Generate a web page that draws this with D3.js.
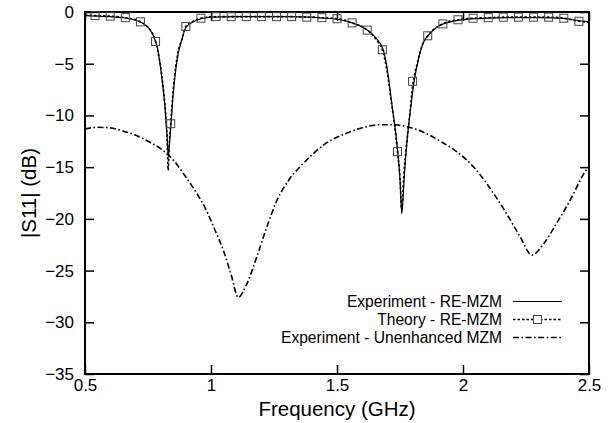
<!DOCTYPE html>
<html>
<head>
<meta charset="utf-8">
<script src="https://cdn.jsdelivr.net/npm/d3@7"></script>
<style>
    body { margin: 0; background: #fff; }
    svg text { font-family: "Liberation Sans", Arial, Helvetica, sans-serif; fill: #000; }
</style>
</head>
<body>
<svg id="chart" width="615" height="423"></svg>
<script>
// frequency (GHz) / |S11| (dB)
var expFreq = [0.5, 0.55, 0.6, 0.65, 0.7, 0.73, 0.76, 0.78, 0.79, 0.8, 0.81, 0.82, 0.826, 0.831, 0.836, 0.842, 0.85, 0.86, 0.87, 0.884, 0.9, 0.93, 0.96, 1.0, 1.1, 1.2, 1.3, 1.4, 1.45, 1.5, 1.56, 1.6, 1.65, 1.684, 1.7, 1.717, 1.73, 1.741, 1.75, 1.757, 1.767, 1.777, 1.79, 1.806, 1.823, 1.842, 1.862, 1.9, 1.95, 2.0, 2.1, 2.2, 2.3, 2.4, 2.45, 2.5];
var expDb = [-0.35, -0.4, -0.45, -0.55, -0.8, -1.1, -1.8, -2.85, -3.8, -5.4, -7.4, -10.0, -12.2, -14.0, -12.5, -10.6, -7.9, -5.6, -4.0, -2.7, -1.5, -0.95, -0.65, -0.5, -0.45, -0.45, -0.45, -0.5, -0.6, -0.7, -1.05, -1.45, -2.4, -3.7, -5.6, -8.8, -11.1, -13.5, -16.2, -19.5, -15.9, -12.7, -9.8, -6.7, -4.6, -3.0, -2.25, -1.4, -0.95, -0.75, -0.6, -0.55, -0.55, -0.62, -0.8, -0.95];

var theoryFreq = [0.5, 0.54, 0.6, 0.66, 0.72, 0.75, 0.78, 0.8, 0.81, 0.82, 0.826, 0.83, 0.834, 0.84, 0.85, 0.86, 0.87, 0.885, 0.9, 0.93, 0.96, 1.02, 1.08, 1.14, 1.2, 1.26, 1.32, 1.38, 1.44, 1.5, 1.56, 1.62, 1.66, 1.68, 1.7, 1.717, 1.73, 1.74, 1.75, 1.757, 1.765, 1.777, 1.79, 1.8, 1.82, 1.84, 1.86, 1.92, 1.98, 2.04, 2.1, 2.16, 2.22, 2.28, 2.34, 2.4, 2.46, 2.5];
var theoryDb = [-0.3, -0.35, -0.4, -0.55, -0.95, -1.5, -2.85, -5.3, -7.2, -9.9, -12.3, -15.3, -13.0, -10.8, -7.6, -5.3, -3.8, -2.6, -1.4, -0.9, -0.6, -0.45, -0.45, -0.45, -0.45, -0.45, -0.45, -0.5, -0.55, -0.65, -1.05, -1.75, -2.8, -3.65, -5.9, -8.9, -11.2, -13.5, -16.0, -19.1, -15.8, -12.6, -9.6, -7.2, -4.8, -3.1, -2.3, -1.15, -0.75, -0.6, -0.55, -0.5, -0.5, -0.5, -0.5, -0.6, -0.9, -1.0];
// squares sit on every 0.06 GHz of the theory curve
var markerFreq = [0.54, 0.6, 0.66, 0.72, 0.78, 0.84, 0.9, 0.96, 1.02, 1.08, 1.14, 1.2, 1.26, 1.32, 1.38, 1.44, 1.5, 1.56, 1.62, 1.68, 1.74, 1.8, 1.86, 1.92, 1.98, 2.04, 2.1, 2.16, 2.22, 2.28, 2.34, 2.4, 2.46];
var markerDb = [-0.35, -0.4, -0.55, -0.95, -2.85, -10.8, -1.4, -0.6, -0.45, -0.45, -0.45, -0.45, -0.45, -0.45, -0.5, -0.55, -0.65, -1.05, -1.75, -3.65, -13.5, -6.7, -2.3, -1.15, -0.75, -0.6, -0.55, -0.5, -0.5, -0.5, -0.5, -0.6, -0.9];

var unenhFreq = [0.5, 0.55, 0.6, 0.65, 0.7, 0.75, 0.8, 0.85, 0.89, 0.94, 0.98, 1.016, 1.05, 1.08, 1.108, 1.14, 1.18, 1.22, 1.26, 1.313, 1.36, 1.406, 1.45, 1.54, 1.6, 1.67, 1.72, 1.78, 1.85, 1.91, 1.975, 2.05, 2.12, 2.173, 2.226, 2.273, 2.32, 2.372, 2.425, 2.478, 2.5];
var unenhDb = [-11.3, -11.15, -11.2, -11.5, -11.9, -12.5, -13.2, -14.3, -15.6, -17.4, -19.1, -21.1, -23.1, -25.4, -27.6, -26.4, -23.8, -20.9, -18.3, -16.1, -14.8, -13.7, -12.8, -11.7, -11.2, -10.9, -10.9, -11.1, -11.7, -12.5, -13.5, -15.2, -17.5, -19.5, -21.7, -23.5, -22.4, -20.4, -18.2, -15.7, -14.9];

var xTicks = [0.5, 1, 1.5, 2, 2.5];
var yTicks = [0, -5, -10, -15, -20, -25, -30, -35];
var legendLabels = ['Experiment - RE-MZM', 'Theory - RE-MZM', 'Experiment - Unenhanced MZM'];

var margin = {left: 85, right: 26, top: 12, bottom: 49};
var width = 615 - margin.left - margin.right,
    height = 423 - margin.top - margin.bottom;
var tickLen = 9;

var svg = d3.select('#chart');
var g = svg.append('g').attr('transform', 'translate(' + margin.left + ',' + margin.top + ')');

var x = d3.scaleLinear().domain([0.5, 2.5]).range([0, width]);
var y = d3.scaleLinear().domain([-35, 0]).range([height, 0]);

function zip(fs, vs) {
    return fs.map(function (f, i) { return {f: f, v: vs[i]}; });
}

var line = d3.line()
    .x(function (d) { return x(d.f); })
    .y(function (d) { return y(d.v); })
    .curve(d3.curveMonotoneX);

// axes: ticks inward, mirrored on top and right
function styleAxis(sel) {
    sel.select('.domain').remove();
    sel.selectAll('.tick line').attr('stroke', '#000').attr('stroke-width', 1.5);
    sel.selectAll('text').style('font-size', '17px').attr('fill', '#000');
}
g.append('g').attr('transform', 'translate(0,' + height + ')')
    .call(d3.axisBottom(x).tickValues(xTicks).tickSizeInner(-tickLen).tickSizeOuter(0).tickPadding(5).tickFormat(d3.format('')))
    .call(styleAxis);
g.append('g')
    .call(d3.axisTop(x).tickValues(xTicks).tickSizeInner(-tickLen).tickSizeOuter(0).tickFormat(''))
    .call(styleAxis);
g.append('g')
    .call(d3.axisLeft(y).tickValues(yTicks).tickSizeInner(-tickLen).tickSizeOuter(0).tickPadding(11).tickFormat(d3.format('')))
    .call(styleAxis);
g.append('g').attr('transform', 'translate(' + width + ',0)')
    .call(d3.axisRight(y).tickValues(yTicks).tickSizeInner(-tickLen).tickSizeOuter(0).tickFormat(''))
    .call(styleAxis);

g.append('rect')
    .attr('width', width).attr('height', height)
    .attr('fill', 'none').attr('stroke', '#000').attr('stroke-width', 2);

// curves
var plot = g.append('g');
plot.append('path').datum(zip(unenhFreq, unenhDb))
    .attr('d', line).attr('fill', 'none').attr('stroke', '#000')
    .attr('stroke-width', 1.6).attr('stroke-dasharray', '6,2.5,1.6,2.5');
plot.append('path').datum(zip(theoryFreq, theoryDb))
    .attr('d', line).attr('fill', 'none').attr('stroke', '#000')
    .attr('stroke-width', 1.6).attr('stroke-dasharray', '2.5,2');
plot.append('path').datum(zip(expFreq, expDb))
    .attr('d', line).attr('fill', 'none').attr('stroke', '#000')
    .attr('stroke-width', 1.2);
plot.selectAll('rect.mark').data(zip(markerFreq, markerDb)).enter()
    .append('rect').attr('class', 'mark')
    .attr('x', function (d) { return x(d.f) - 4; })
    .attr('y', function (d) { return y(d.v) - 4; })
    .attr('width', 8).attr('height', 8)
    .attr('fill', 'none').attr('stroke', '#444').attr('stroke-width', 1);

// axis titles
svg.append('text')
    .attr('x', margin.left + width / 2).attr('y', 416)
    .attr('text-anchor', 'middle').style('font-size', '20.5px')
    .text('Frequency (GHz)');
svg.append('text')
    .attr('transform', 'translate(36,' + (margin.top + height / 2) + ') rotate(-90)')
    .attr('text-anchor', 'middle').style('font-size', '20.5px')
    .text('|S11| (dB)');

// legend
var legend = svg.append('g');
var dashes = [null, '2.5,2', '6,2.5,1.6,2.5'];
legendLabels.forEach(function (label, i) {
    var by = 307 + i * 18;
    legend.append('text')
        .attr('x', 502).attr('y', by)
        .attr('text-anchor', 'end').style('font-size', '15.6px')
        .text(label);
    legend.append('line')
        .attr('x1', 513).attr('x2', 562).attr('y1', by - 5.5).attr('y2', by - 5.5)
        .attr('stroke', '#000').attr('stroke-width', i == 0 ? 1.2 : 1.6)
        .attr('stroke-dasharray', dashes[i]);
    if (i == 1) {
        legend.append('rect')
            .attr('x', 533.5).attr('y', by - 9.5).attr('width', 8).attr('height', 8)
            .attr('fill', '#fff').attr('stroke', '#444').attr('stroke-width', 1);
    }
});
</script>
</body>
</html>
